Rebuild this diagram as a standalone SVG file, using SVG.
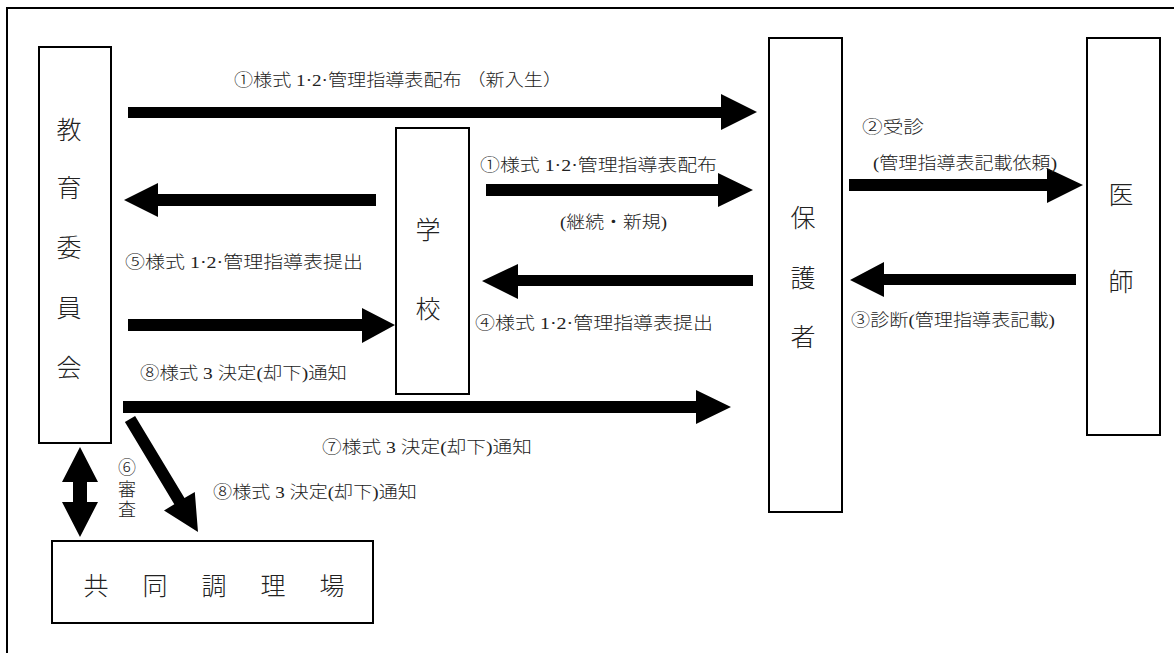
<svg xmlns="http://www.w3.org/2000/svg" width="1174" height="653" viewBox="0 0 1174 653">
<style>
.frame{fill:none;stroke:#000;stroke-width:2}
.box{fill:#fff;stroke:#000;stroke-width:2}
.arr{fill:#000;stroke:none}
.node{font-family:"Liberation Serif","Noto Sans CJK JP",serif;font-size:25px;font-weight:300;fill:#222;text-anchor:middle;dominant-baseline:central}
.lbl{font-family:"Liberation Serif","Noto Sans CJK JP",serif;font-size:17px;font-weight:300;fill:#222;dominant-baseline:central}
.vl{font-family:"Liberation Serif","Noto Sans CJK JP",serif;font-size:18px;font-weight:300;fill:#222;text-anchor:middle;dominant-baseline:central}
</style>
<rect width="1174" height="653" fill="#fff"/>
<path class="frame" d="M7,660 V8 H1180"/>

<g id="kyoiku-iinkai">
<rect class="box" x="39" y="47" width="72" height="396"/>
<text class="node" x="69" y="130">教</text>
<text class="node" x="69" y="188">育</text>
<text class="node" x="69" y="248">委</text>
<text class="node" x="69" y="308">員</text>
<text class="node" x="69" y="368">会</text>
</g>
<g id="gakko">
<rect class="box" x="396" y="128" width="73" height="266"/>
<text class="node" x="428" y="230">学</text>
<text class="node" x="428" y="309">校</text>
</g>
<g id="hogosha">
<rect class="box" x="769" y="38" width="73" height="474"/>
<text class="node" x="803" y="218">保</text>
<text class="node" x="803" y="278">護</text>
<text class="node" x="803" y="337">者</text>
</g>
<g id="ishi">
<rect class="box" x="1087" y="38" width="73" height="397"/>
<text class="node" x="1121" y="195">医</text>
<text class="node" x="1121" y="282">師</text>
</g>
<g id="kyodo-choriba">
<rect class="box" x="52" y="541" width="321" height="82"/>
<text class="node" x="96" y="586">共</text>
<text class="node" x="155" y="586">同</text>
<text class="node" x="214" y="586">調</text>
<text class="node" x="273" y="586">理</text>
<text class="node" x="332" y="586">場</text>
</g>

<g id="connectors">
<polygon class="arr" points="128,107 721,107 721,94 757,112 721,130 721,118 128,118"/>
<polygon class="arr" points="376,194 158,194 158,183 124,200 158,217 158,206 376,206"/>
<polygon class="arr" points="486,184 718,184 718,173 753,190 718,207 718,196 486,196"/>
<polygon class="arr" points="849,179 1047,179 1047,168 1083,185 1047,203 1047,191 849,191"/>
<polygon class="arr" points="1076,274 884,274 884,262 850,280 884,297 884,285 1076,285"/>
<polygon class="arr" points="753,275 518,275 518,264 482,281 518,299 518,286 753,286"/>
<polygon class="arr" points="128,319 362,319 362,308 395,325 362,343 362,331 128,331"/>
<polygon class="arr" points="123,401 696,401 696,390 731,407 696,424 696,413 123,413"/>
<polygon class="arr" points="135.1,415.9 184.5,498.1 194.8,491.9 198,532 164,510.5 174.3,504.3 124.9,422.1"/>
<polygon class="arr" points="80,447 98,482 87,482 87,502 98,502 80,537 62,502 73,502 73,482 62,482"/>
</g>

<g id="labels">
<text class="lbl" x="234" y="80" textLength="328" lengthAdjust="spacingAndGlyphs">①様式 1·2·管理指導表配布 （新入生）</text>
<text class="lbl" x="480" y="165" textLength="237" lengthAdjust="spacingAndGlyphs">①様式 1·2·管理指導表配布</text>
<text class="lbl" x="560" y="222" textLength="107" lengthAdjust="spacingAndGlyphs">(継続・新規)</text>
<text class="lbl" x="862" y="127" textLength="62" lengthAdjust="spacingAndGlyphs">②受診</text>
<text class="lbl" x="873" y="163" textLength="184" lengthAdjust="spacingAndGlyphs">(管理指導表記載依頼)</text>
<text class="lbl" x="851" y="320" textLength="204" lengthAdjust="spacingAndGlyphs">③診断(管理指導表記載)</text>
<text class="lbl" x="475" y="323" textLength="238" lengthAdjust="spacingAndGlyphs">④様式 1·2·管理指導表提出</text>
<text class="lbl" x="125" y="262" textLength="238" lengthAdjust="spacingAndGlyphs">⑤様式 1·2·管理指導表提出</text>
<text class="lbl" x="140" y="373" textLength="207" lengthAdjust="spacingAndGlyphs">⑧様式 3 決定(却下)通知</text>
<text class="lbl" x="322" y="447" textLength="210" lengthAdjust="spacingAndGlyphs">⑦様式 3 決定(却下)通知</text>
<text class="lbl" x="213" y="492" textLength="204" lengthAdjust="spacingAndGlyphs">⑧様式 3 決定(却下)通知</text>
<text class="vl" x="127" y="468">⑥</text>
<text class="vl" x="127" y="490">審</text>
<text class="vl" x="127" y="510">査</text>
</g>
</svg>
